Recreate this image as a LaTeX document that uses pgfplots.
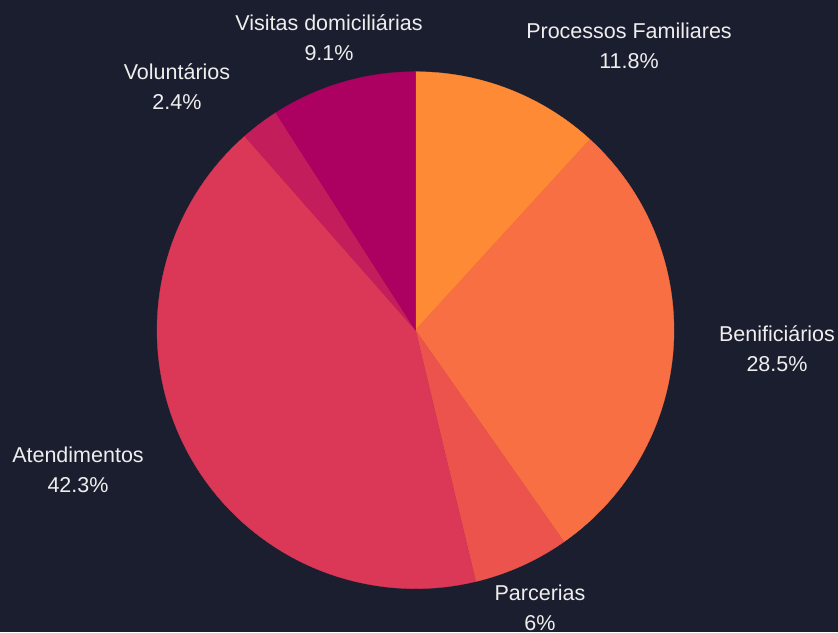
\documentclass[border=0pt]{standalone}
\usepackage{pgfplots}
\pgfplotsset{compat=1.18}
\usepackage{fontspec}
\setmainfont{Liberation Sans}
\definecolor{bg}{HTML}{1B1E2F}
\definecolor{txt}{HTML}{EEEEEE}
\definecolor{cA}{HTML}{FF8A35}
\definecolor{cB}{HTML}{F76F42}
\definecolor{cC}{HTML}{EC534C}
\definecolor{cD}{HTML}{DA3856}
\definecolor{cE}{HTML}{C41D5C}
\definecolor{cF}{HTML}{AC0160}
% values (percent)
\def\vA{11.8}% Processos Familiares
\def\vB{28.5}% Benificiarios
\def\vC{6}%    Parcerias
\def\vD{42.3}% Atendimentos
\def\vE{2.4}%  Voluntarios
\def\vF{9.1}%  Visitas domiciliarias
\pgfmathsetmacro{\tot}{\vA+\vB+\vC+\vD+\vE+\vF}
\pgfmathsetmacro{\k}{360/\tot}
\pgfmathsetmacro{\aA}{90}
\pgfmathsetmacro{\aB}{\aA-\k*\vA}
\pgfmathsetmacro{\aC}{\aB-\k*\vB}
\pgfmathsetmacro{\aD}{\aC-\k*\vC}
\pgfmathsetmacro{\aE}{\aD-\k*\vD}
\pgfmathsetmacro{\aF}{\aE-\k*\vE}
\pgfmathsetmacro{\aG}{\aF-\k*\vF}
\def\cx{415.5}
\def\cy{301.8}
\def\R{258.5}
\newcommand{\slice}[3]{%
  \addplot[fill=#1, draw=#1, line width=0.3pt, domain=#3:#2, samples=80]
    ({\cx+\R*cos(x)},{\cy+\R*sin(x)}) -- (axis cs:\cx,\cy) -- cycle;
}
\tikzset{lbl/.style={font=\fontsize{21.5}{30}\selectfont, text=txt, align=center, inner sep=0pt}}
\begin{document}
\begin{tikzpicture}
\useasboundingbox (0,0) rectangle (838pt,632pt);
\begin{axis}[
  x=1pt, y=1pt,
  xmin=0, xmax=838, ymin=0, ymax=632,
  hide axis, clip=false,
  anchor=origin, at={(0,0)},
]
\fill[bg] (axis cs:0,0) rectangle (axis cs:838,632);
\slice{cA}{\aA}{\aB}
\slice{cB}{\aB}{\aC}
\slice{cC}{\aC}{\aD}
\slice{cD}{\aD}{\aE}
\slice{cE}{\aE}{\aF}
\slice{cF}{\aF}{\aG}
\node[lbl] at (axis cs:629,586) {Processos Familiares\\11.8\%};
\node[lbl] at (axis cs:777,283.5) {Benificiários\\28.5\%};
\node[lbl] at (axis cs:540,24) {Parcerias\\6\%};
\node[lbl] at (axis cs:78,162.5) {Atendimentos\\42.3\%};
\node[lbl] at (axis cs:177,545) {Voluntários\\2.4\%};
\node[lbl] at (axis cs:329,594.5) {Visitas domiciliárias\\9.1\%};
\end{axis}
\end{tikzpicture}
\end{document}
